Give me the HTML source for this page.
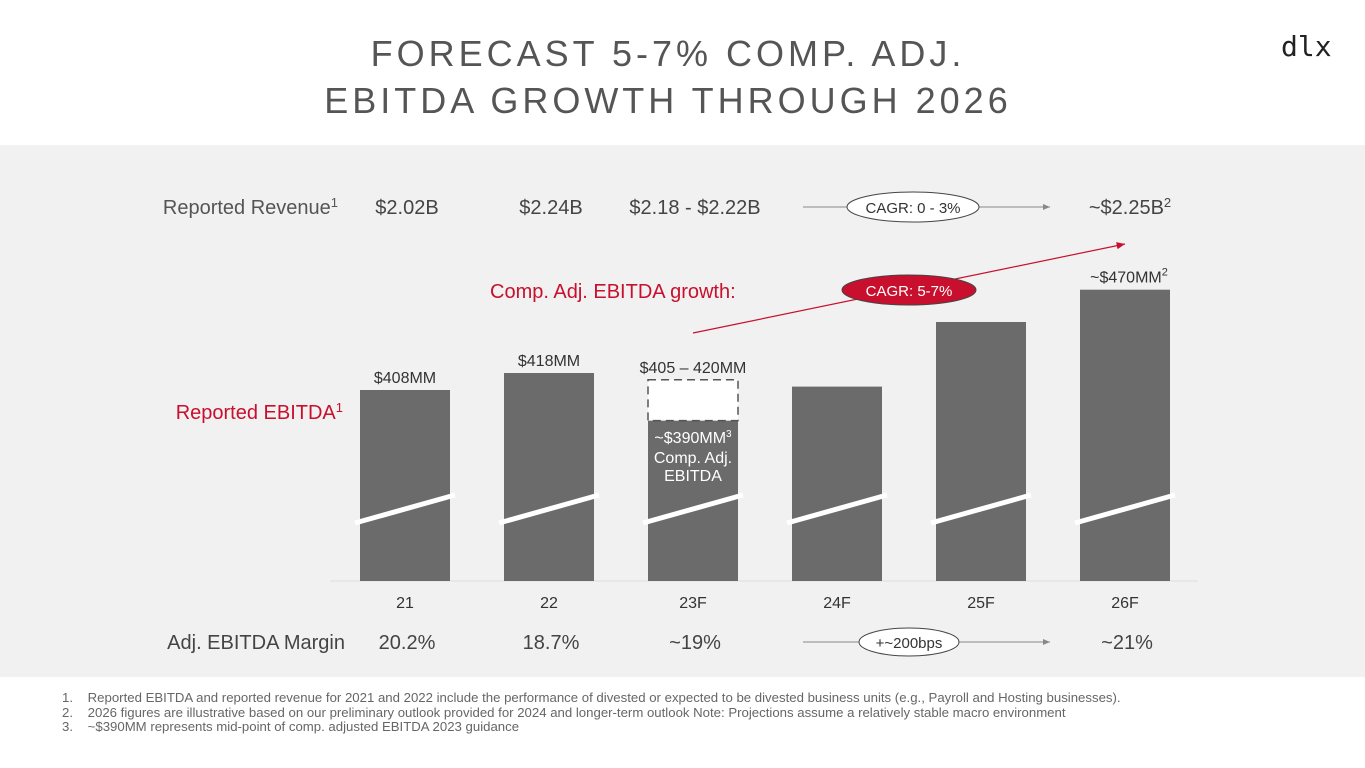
<!DOCTYPE html>
<html><head><meta charset="utf-8"><style>
body{margin:0;width:1365px;height:768px;background:#fff;font-family:"Liberation Sans",sans-serif;overflow:hidden;position:relative}
.t{position:absolute;white-space:nowrap}
</style></head><body>
<div class="t" style="left:0;width:1336px;top:30px;text-align:center;font-size:36px;letter-spacing:4px;color:#555;line-height:47px">FORECAST 5-7% COMP. ADJ.<br>EBITDA GROWTH THROUGH 2026</div>
<div class="t" style="left:1281px;top:30px;font-family:'DejaVu Sans Mono',monospace;font-size:28px;color:#222">dlx</div>
<div style="position:absolute;left:0;top:145px;width:1365px;height:532px;background:#f1f1f1"></div>
<svg id="c" width="1365" height="768" style="position:absolute;left:0;top:0" font-family="Liberation Sans, sans-serif"></svg>
<div class="t" style="left:62px;top:691px;font-size:13.2px;color:#666;line-height:14.5px">
1.&nbsp;&nbsp;&nbsp;&nbsp;Reported EBITDA and reported revenue for 2021 and 2022 include the performance of divested or expected to be divested business units (e.g., Payroll and Hosting businesses).<br>
2.&nbsp;&nbsp;&nbsp;&nbsp;2026 figures are illustrative based on our preliminary outlook provided for 2024 and longer-term outlook Note: Projections assume a relatively stable macro environment<br>
3.&nbsp;&nbsp;&nbsp;&nbsp;~$390MM represents mid-point of comp. adjusted EBITDA 2023 guidance</div>
<script>
const categories=["21","22","23F","24F","25F","26F"];
const ebitda=[408,418,390,410,448,467];
const barLabels=["$408MM","$418MM","$405 – 420MM","","","~$470MM"];
const barSup=["","","","","","2"];
const rangeHigh=[null,null,414,null,null,null];
const revenue=["$2.02B","$2.24B","$2.18 - $2.22B","","","~$2.25B"];
const revenueSup=["","","","","","2"];
const margin=["20.2%","18.7%","~19%","","","~21%"];
const svg=document.getElementById('c');
const NS='http://www.w3.org/2000/svg';
const x0=405,step=144,bw=90,base=581;
const xc=i=>x0+i*step;
const y=v=>390-(v-408)*1.7;
function mk(tag,at,txt){const e=document.createElementNS(NS,tag);for(const k in at)e.setAttribute(k,at[k]);if(txt!=null)e.textContent=txt;svg.appendChild(e);return e;}
function tx(x,yy,s,size,fill,anchor){return mk('text',{x:x,y:yy,'font-size':size,fill:fill,'text-anchor':anchor||'middle'},s);}
function sup(el,s,size){if(!s)return;const t=document.createElementNS(NS,'tspan');t.setAttribute('font-size',size);t.setAttribute('dy',-7);t.textContent=s;el.appendChild(t);}
const ax=mk('line',{x1:330,y1:base,x2:1198,y2:base,stroke:'#ddd','stroke-width':1});


categories.forEach((c,i)=>{
 const top=y(ebitda[i]);
 const b=mk('rect',{x:xc(i)-bw/2,y:top,width:bw,height:base-top,fill:'#6b6b6b'});
 
 
 if(rangeHigh[i]!=null){
  const ht=y(rangeHigh[i]);
  const r=mk('rect',{x:xc(i)-bw/2,y:ht,width:bw,height:top-ht,fill:'#fff',stroke:'#555','stroke-width':1.5,'stroke-dasharray':'8,5'});
  
  
 }
 const s=mk('line',{x1:xc(i)-50,y1:523,x2:xc(i)+50,y2:495,stroke:'#fff','stroke-width':5});
 
 
 const lt=rangeHigh[i]!=null?y(rangeHigh[i]):top;
 if(barLabels[i]){const l=tx(xc(i)+(barSup[i]?4:0),lt-7,barLabels[i],16,'#333');sup(l,barSup[i],11);}
 const cl=tx(xc(i),608,c,16,'#333');
 
 
 if(revenue[i]){const r=tx(xc(i)+2+(revenueSup[i]?3:0),214,revenue[i],20,'#444');sup(r,revenueSup[i],13);}
 if(margin[i]){const m=tx(xc(i)+2,649,margin[i],20,'#444');}
});
svg.innerHTML+=`
<text x="693" y="443" font-size="16" fill="#fff" text-anchor="middle">~$390MM<tspan font-size="10" dy="-6">3</tspan></text>
<text x="693" y="463" font-size="16" fill="#fff" text-anchor="middle">Comp. Adj.</text>
<text x="693" y="481" font-size="16" fill="#fff" text-anchor="middle">EBITDA</text>
<text x="338" y="214" font-size="20" fill="#555" text-anchor="end">Reported Revenue<tspan font-size="13" dy="-7">1</tspan></text>
<text x="343" y="419" font-size="20" fill="#c8102e" text-anchor="end">Reported EBITDA<tspan font-size="13" dy="-7">1</tspan></text>
<text x="345" y="649" font-size="20" fill="#444" text-anchor="end">Adj. EBITDA Margin</text>
<text x="490" y="298" font-size="20" fill="#c8102e">Comp. Adj. EBITDA growth:</text>
<defs><marker id="ag" markerWidth="8" markerHeight="8" refX="7" refY="4" orient="auto"><path d="M0,1 L7,4 L0,7z" fill="#888"/></marker>
<marker id="ar" markerWidth="8" markerHeight="8" refX="7" refY="4" orient="auto"><path d="M0,1 L7,4 L0,7z" fill="#c8102e"/></marker></defs>
<line x1="803" y1="207" x2="1050" y2="207" stroke="#888" stroke-width="1" marker-end="url(#ag)"/>
<ellipse cx="913" cy="207" rx="66" ry="15" fill="#fff" stroke="#444" stroke-width="1"/>
<text x="913" y="213" font-size="15" fill="#333" text-anchor="middle">CAGR: 0 - 3%</text>
<line x1="803" y1="642" x2="1050" y2="642" stroke="#888" stroke-width="1" marker-end="url(#ag)"/>
<ellipse cx="909" cy="642" rx="50" ry="14" fill="#fff" stroke="#444" stroke-width="1"/>
<text x="909" y="648" font-size="15" fill="#333" text-anchor="middle">+~200bps</text>
<line x1="693" y1="333" x2="1125" y2="244" stroke="#c8102e" stroke-width="1.2" marker-end="url(#ar)"/>
<ellipse cx="909" cy="290" rx="67" ry="15" fill="#c8102e" stroke="#444" stroke-width="1"/>
<text x="909" y="296" font-size="15" fill="#fff" text-anchor="middle">CAGR: 5-7%</text>`;
</script>
</body></html>
